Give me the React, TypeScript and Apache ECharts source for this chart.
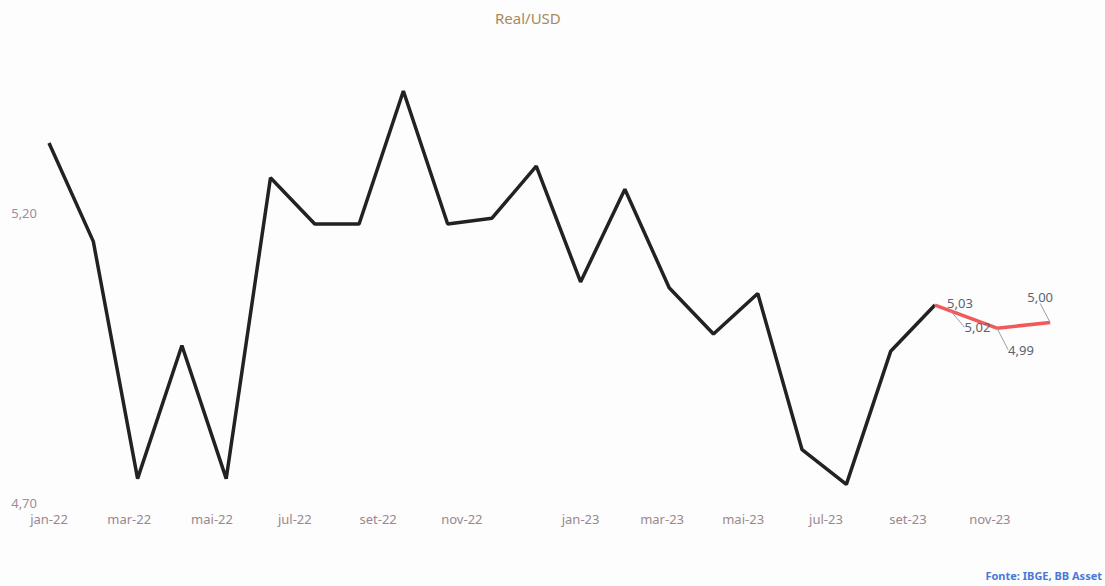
import React, { useEffect, useRef } from "react";
import * as echarts from "echarts";

// Monthly Real/USD, jan-22 .. set-23 (month index 0..20)
const histValues = [
  5.31, 5.14, 4.73, 4.96, 4.73, 5.25, 5.17, 5.17, 5.40, 5.17, 5.18, 5.27,
  5.07, 5.23, 5.06, 4.98, 5.05, 4.78, 4.72, 4.95, 5.03,
];
// Forecast points (position in months from jan-22, value)
const forecastMonths = [20, 20.35, 21.4, 22.6];
const forecastValues = [5.03, 5.02, 4.99, 5.0];

// Axis tick labels and where they sit (in months from jan-22)
const xLabels = ["jan-22", "mar-22", "mai-22", "jul-22", "set-22", "nov-22", "jan-23", "mar-23", "mai-23", "jul-23", "set-23", "nov-23"];
const xLabelMonths = [0, 1.81, 3.68, 5.55, 7.43, 9.32, 12.0, 13.84, 15.67, 17.54, 19.39, 21.24];

const labelOffsets = [
  [25, 10],
  [27, 28],
  [24, 33],
  [-10, -14],
];

const fmt = (v: number) => v.toFixed(2).replace(".", ",");

export default function App() {
  const ref = useRef<HTMLDivElement>(null);
  useEffect(() => {
    if (!ref.current) return;
    const chart = echarts.init(ref.current, undefined, { renderer: "svg" });
    const font = "'Noto Sans', 'Open Sans', sans-serif";
    chart.setOption({
      animation: false,
      backgroundColor: "#fcfdfc",
      textStyle: { fontFamily: font },
      title: {
        text: "Real/USD",
        left: 490,
        top: 5,
        textStyle: { color: "#a8895f", fontSize: 15, fontWeight: "normal", fontFamily: font },
      },
      graphic: [
        {
          type: "text",
          right: 3,
          top: 570,
          style: { text: "Fonte: IBGE, BB Asset", fill: "#4a78d8", font: `bold 11px ${font}` },
        },
      ],
      grid: { left: 49, right: 15, top: 62, bottom: 90 },
      xAxis: {
        type: "value",
        min: 0,
        max: 23.5,
        axisLine: { show: false },
        axisTick: { show: false },
        splitLine: { show: false },
        axisLabel: {
          customValues: xLabelMonths,
          margin: 16,
          color: "#9a8790",
          fontSize: 13,
          fontFamily: font,
          formatter: (v: number) => {
            const i = xLabelMonths.findIndex((p) => Math.abs(p - v) < 1e-6);
            return i >= 0 ? xLabels[i] : "";
          },
        },
      },
      yAxis: {
        type: "value",
        min: 4.7,
        max: 5.45,
        interval: 0.5,
        axisLine: { show: false },
        axisTick: { show: false },
        splitLine: { show: false },
        axisLabel: {
          showMaxLabel: false,
          margin: 12,
          verticalAlign: "top",
          color: "#a58a9a",
          fontSize: 13,
          fontFamily: font,
          formatter: (v: number) => fmt(v),
        },
      },
      series: [
        {
          type: "line",
          data: histValues.map((v, i) => [i, v]),
          showSymbol: false,
          lineStyle: { color: "#222222", width: 3.5 },
          itemStyle: { color: "#222222" },
          z: 2,
        },
        {
          type: "line",
          data: forecastValues.map((v, i) => ({
            value: [forecastMonths[i], v],
            labelLine: { show: i !== 0 },
          })),
          symbol: "circle",
          symbolSize: 0.1,
          showSymbol: true,
          lineStyle: { color: "#f05a5a", width: 3.5 },
          itemStyle: { color: "#f05a5a" },
          label: {
            show: true,
            position: "top",
            distance: 5,
            color: "#5b6274",
            fontSize: 13,
            fontFamily: font,
            formatter: (p: any) => fmt(p.value[1]),
          },
          labelLine: { show: true, lineStyle: { color: "#9aa0a8", width: 1 } },
          labelLayout: (p: any) => ({ dx: labelOffsets[p.dataIndex][0], dy: labelOffsets[p.dataIndex][1] }),
          z: 3,
        },
      ],
    });
    return () => chart.dispose();
  }, []);
  return (
    <div
      ref={ref}
      style={{ position: "fixed", left: 0, top: 0, width: 1105, height: 586, background: "#fcfdfc" }}
    />
  );
}
